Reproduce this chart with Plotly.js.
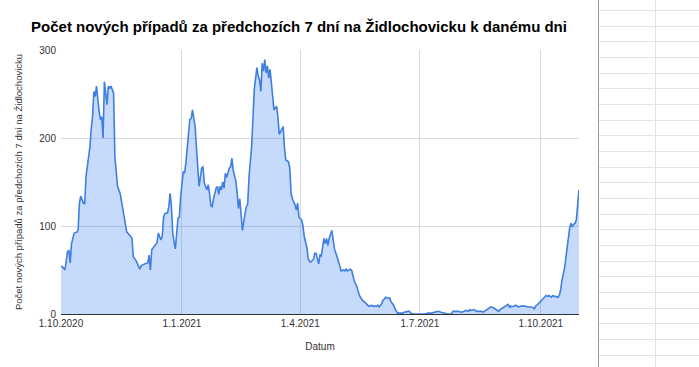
<!DOCTYPE html>
<html>
<head>
<meta charset="utf-8">
<script src="https://cdn.plot.ly/plotly-3.0.1.min.js"></script>
<style>
  html, body { margin: 0; padding: 0; background: #ffffff; }
  #wrap { position: relative; width: 699px; height: 367px; overflow: hidden; }
  #chart { position: absolute; left: 0; top: 0; width: 598px; height: 367px; background: #fff; }
  #sheet { position: absolute; left: 598px; top: 0; width: 101px; height: 367px; background: #fff; }
</style>
</head>
<body>
<div id="wrap">
  <div id="chart"></div>
  <div id="sheet"></div>
</div>
<script>
// ---- data ----
const startDate = '2020-10-01';
const dayOffsets = [
  0,1,3,5,6,7,8,10,12,13,14,15,17,18,19,20,22,23,24,25,26,27,28,29,30,31,32,33,34,35,
  36,37,38,39,40,41,42,43,45,47,50,52,54,55,57,60,61,64,66,67,68,69,71,73,74,76,77,78,79,81,
  82,83,84,85,86,87,88,89,90,91,93,94,95,96,98,99,100,102,103,104,105,107,108,109,111,112,113,114,115,116,
  118,119,120,121,122,123,124,125,126,128,129,130,131,133,134,135,136,137,138,140,141,142,143,145,146,147,149,150,151,152,
  153,154,155,156,157,158,159,160,161,162,164,165,166,168,169,170,171,173,174,175,176,178,179,180,181,183,184,185,187,188,
  189,190,192,193,194,196,197,198,199,200,201,202,203,204,206,207,208,210,211,212,213,215,216,217,218,220,221,222,223,225,
  226,227,229,230,231,232,234,235,236,237,239,240,241,242,244,245,246,247,249,250,251,253,254,255,256,258,259,260,261,263,
  264,265,266,268,272,274,277,279,282,284,287,289,292,294,297,298,300,302,305,307,308,310,311,312,314,315,317,320,321,322,
  324,325,326,327,329,330,331,333,334,335,336,338,339,340,341,342,343,344,346,347,348,350,353,355,358,360,361,362,364,366,
  367,369,370,371,373,374,375,376,378,379,380,381,383,384,385,386,387,388,389,390,391,392,393,394
];
const cases = [
  54,54,50,71,72,58,80,92,93,95,126,134,126,125,156,167,190,211,224,253,247,259,243,230,221,224,200,264,251,238,
  259,256,259,255,251,179,164,145,137,118,93,90,86,65,61,51,55,57,58,67,50,73,77,81,92,84,88,110,114,115,
  122,137,122,92,82,74,92,109,110,133,162,160,172,188,221,222,232,213,194,167,145,166,167,149,141,147,137,123,122,131,
  143,145,136,145,141,150,143,160,155,166,167,177,163,151,137,120,131,114,95,114,122,125,156,190,224,255,280,270,266,253,
  285,276,289,274,282,268,278,259,249,232,236,224,204,211,213,188,175,173,166,137,131,124,118,126,110,107,101,88,76,63,
  60,59,62,69,69,57,67,66,80,86,80,86,78,86,95,82,74,65,61,55,49,50,49,51,49,51,50,42,38,31,
  27,21,16,15,14,12,9,9,10,9,9,9,10,8,12,16,17,19,18,18,14,10,6,3,1,1,1,1,2,3,
  3,3,1,0,0,0,0,1,1,2,3,2,1,0,0,3,3,3,2,3,4,3,5,4,5,4,3,3,2,3,
  5,7,8,8,7,6,5,3,5,6,7,8,9,11,8,9,8,9,10,9,8,9,9,8,8,6,9,10,13,16,
  18,21,20,21,19,21,20,20,19,21,27,38,52,65,78,86,99,103,99,102,103,107,122,141
];
const tickDates = ['2020-10-01', '2021-01-01', '2021-04-01', '2021-07-01', '2021-10-01'];
const tickLabels = ['1.10.2020', '1.1.2021', '1.4.2021', '1.7.2021', '1.10.2021'];
const yTicks = [0, 100, 200, 300];

const chartTitle = 'Počet nových případů za předchozích 7 dní na Židlochovicku k danému dni';
const yTitle = 'Počet nových případů za předchozích 7 dní na Židlochovicku';
const xTitle = 'Datum';

// build dates from offsets
const t0 = Date.parse(startDate + 'T00:00:00Z');
const dates = dayOffsets.map(d => new Date(t0 + d * 86400000).toISOString().slice(0, 10));
const endDate = dates[dates.length - 1];

const trace = {
  x: dates,
  y: cases,
  type: 'scatter',
  mode: 'lines',
  fill: 'tozeroy',
  fillcolor: 'rgba(66,133,244,0.30)',
  line: { color: '#3f7fe0', width: 1.6 },
  hoverinfo: 'x+y'
};

const layout = {
  width: 598,
  height: 367,
  margin: { l: 61, r: 19, t: 50, b: 53 },
  paper_bgcolor: '#ffffff',
  plot_bgcolor: '#ffffff',
  showlegend: false,
  font: { family: 'Arial, "Liberation Sans", sans-serif', color: '#444' },
  title: {
    text: '<b>' + chartTitle + '</b>',
    font: { size: 15, color: '#000', family: 'Arial, "Liberation Sans", sans-serif' },
    x: 0.5, xanchor: 'center', xref: 'container',
    y: 0.927, yanchor: 'middle', yref: 'container'
  },
  xaxis: {
    type: 'date',
    range: [startDate, endDate],
    tickvals: tickDates,
    ticktext: tickLabels,
    showgrid: true,
    gridcolor: '#d9d9d9',
    gridwidth: 1,
    showline: true,
    linecolor: '#333',
    linewidth: 1,
    ticks: '',
    zeroline: false,
    tickfont: { size: 10, color: '#333' },
    title: { text: xTitle, font: { size: 10, color: '#333' }, standoff: 14 },
    automargin: false
  },
  yaxis: {
    range: [0, 300],
    tickvals: yTicks,
    ticktext: yTicks.map(String),
    showgrid: true,
    gridcolor: '#d9d9d9',
    gridwidth: 1,
    zeroline: false,
    showline: false,
    ticks: '',
    ticklabelstandoff: 4,
    tickfont: { size: 10, color: '#333' },
    title: { text: yTitle, font: { size: 9.5, color: '#333' }, standoff: 14 },
    automargin: false
  }
};

Plotly.newPlot('chart', [trace], layout, { staticPlot: true, displayModeBar: false });

// spreadsheet grid behind the chart on the right
const sheet = document.getElementById('sheet');
const rowStart = 10, rowStep = 15.67;
for (let y = rowStart; y < 367; y += rowStep) {
  const d = document.createElement('div');
  d.style.cssText = 'position:absolute;left:0;width:101px;height:1px;background:#e2e2e2;top:' + Math.round(y) + 'px';
  sheet.appendChild(d);
}
const v1 = document.createElement('div');
v1.style.cssText = 'position:absolute;left:57px;top:0;width:1px;height:367px;background:#e2e2e2';
sheet.appendChild(v1);
const v0 = document.createElement('div');
v0.style.cssText = 'position:absolute;left:0;top:0;width:1px;height:367px;background:#9a9a9a';
sheet.appendChild(v0);
</script>
</body>
</html>
